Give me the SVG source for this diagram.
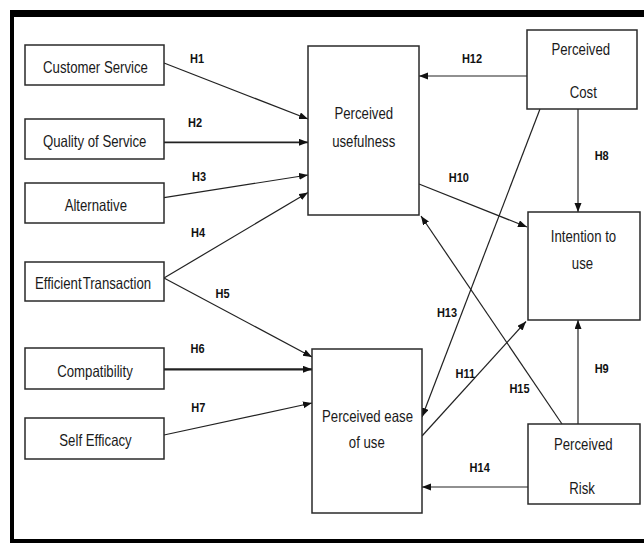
<svg xmlns="http://www.w3.org/2000/svg" width="644" height="543" viewBox="0 0 644 543">
<defs>
<marker id="ah" markerUnits="userSpaceOnUse" markerWidth="10" markerHeight="8" refX="9" refY="3.5" orient="auto">
<path d="M0,0 L9,3.5 L0,7 z" fill="#111"/>
</marker>
<style>
.box{fill:#fff;stroke:#2a2a2a;stroke-width:1.5}
.t{font-family:"Liberation Sans",Arial,sans-serif;font-size:16.5px;fill:#1a1a1a;text-anchor:middle}
.h{font-family:"Liberation Sans",Arial,sans-serif;font-size:12.5px;font-weight:bold;fill:#111;text-anchor:middle}
.c{fill:none;stroke:#222;stroke-width:1.2;marker-end:url(#ah)}
.frame{fill:#000}
</style>
</defs>
<rect x="0" y="0" width="644" height="543" fill="#fff"/>
<g id="frame">
<rect class="frame" x="10" y="10" width="634" height="7"/>
<rect class="frame" x="10" y="10" width="4" height="533"/>
<rect class="frame" x="10" y="539" width="634" height="4"/>
</g>
<g id="connectors">
<line class="c" x1="164" y1="63" x2="308" y2="119"/>
<line class="c" x1="164" y1="142.3" x2="308" y2="142.3" style="stroke-width:1.8"/>
<line class="c" x1="164" y1="197.7" x2="308" y2="175"/>
<line class="c" x1="164" y1="278" x2="308" y2="192.5"/>
<line class="c" x1="164" y1="278" x2="312" y2="357"/>
<line class="c" x1="164" y1="369.3" x2="312" y2="369.3" style="stroke-width:2.2"/>
<line class="c" x1="164" y1="435" x2="312" y2="403"/>
<line class="c" x1="527" y1="76" x2="419" y2="76"/>
<line class="c" x1="578" y1="109" x2="578" y2="212"/>
<line class="c" x1="419" y1="184" x2="527" y2="227"/>
<line class="c" x1="540" y1="109" x2="422" y2="417"/>
<line class="c" x1="562" y1="424" x2="421" y2="216"/>
<line class="c" x1="422" y1="436" x2="526" y2="321.5"/>
<line class="c" x1="578" y1="424" x2="578" y2="320"/>
<line class="c" x1="528" y1="487" x2="422" y2="487"/>
</g>
<g id="labels">
<text class="h" transform="translate(197,62.7) scale(0.88,1)">H1</text>
<text class="h" transform="translate(195,126.5) scale(0.88,1)">H2</text>
<text class="h" transform="translate(199,180.7) scale(0.88,1)">H3</text>
<text class="h" transform="translate(198,237.3) scale(0.88,1)">H4</text>
<text class="h" transform="translate(222.5,298.3) scale(0.88,1)">H5</text>
<text class="h" transform="translate(197.5,352.7) scale(0.88,1)">H6</text>
<text class="h" transform="translate(198.3,411.7) scale(0.88,1)">H7</text>
<text class="h" transform="translate(601.7,160) scale(0.88,1)">H8</text>
<text class="h" transform="translate(601.7,373.3) scale(0.88,1)">H9</text>
<text class="h" transform="translate(458.8,182.3) scale(0.88,1)">H10</text>
<text class="h" transform="translate(465.3,378) scale(0.88,1)">H11</text>
<text class="h" transform="translate(472,62.7) scale(0.88,1)">H12</text>
<text class="h" transform="translate(447,316.7) scale(0.88,1)">H13</text>
<text class="h" transform="translate(479.7,471.7) scale(0.88,1)">H14</text>
<text class="h" transform="translate(519.5,392.7) scale(0.88,1)">H15</text>
</g>
<g id="customer-service">
<rect class="box" x="25" y="45" width="139" height="40"/>
<text class="t" transform="translate(95.5,72.7) scale(0.8,1)">Customer Service</text>
</g>
<g id="quality-of-service">
<rect class="box" x="25" y="119" width="139" height="40"/>
<text class="t" transform="translate(94.7,146.7) scale(0.8,1)">Quality of Service</text>
</g>
<g id="alternative">
<rect class="box" x="25" y="183" width="139" height="40"/>
<text class="t" transform="translate(95.8,210.7) scale(0.8,1)">Alternative</text>
</g>
<g id="efficient-transaction">
<rect class="box" x="25" y="262" width="139" height="39"/>
<text class="t" transform="translate(93,289) scale(0.8,1)" style="word-spacing:-3px">Efficient Transaction</text>
</g>
<g id="compatibility">
<rect class="box" x="25" y="348" width="139" height="41"/>
<text class="t" transform="translate(95,376.5) scale(0.8,1)">Compatibility</text>
</g>
<g id="self-efficacy">
<rect class="box" x="25" y="418" width="139" height="41"/>
<text class="t" transform="translate(95.5,446) scale(0.8,1)">Self Efficacy</text>
</g>
<g id="perceived-usefulness">
<rect class="box" x="308" y="46" width="111" height="169"/>
<text class="t" transform="translate(363.8,119.3) scale(0.8,1)">Perceived</text>
<text class="t" transform="translate(363.7,146.7) scale(0.8,1)">usefulness</text>
</g>
<g id="perceived-ease-of-use">
<rect class="box" x="312" y="349" width="110" height="164"/>
<text class="t" transform="translate(367.5,421.7) scale(0.8,1)">Perceived ease</text>
<text class="t" transform="translate(366.8,448.3) scale(0.8,1)">of use</text>
</g>
<g id="perceived-cost">
<rect class="box" x="527" y="30" width="110" height="79"/>
<text class="t" transform="translate(580.8,55) scale(0.8,1)">Perceived</text>
<text class="t" transform="translate(583.3,98.3) scale(0.8,1)">Cost</text>
</g>
<g id="intention-to-use">
<rect class="box" x="528" y="212" width="112" height="108"/>
<text class="t" transform="translate(583.5,241.7) scale(0.8,1)">Intention to</text>
<text class="t" transform="translate(582.5,269.3) scale(0.8,1)">use</text>
</g>
<g id="perceived-risk">
<rect class="box" x="528" y="424" width="112" height="80"/>
<text class="t" transform="translate(583.3,450) scale(0.8,1)">Perceived</text>
<text class="t" transform="translate(582,494) scale(0.8,1)">Risk</text>
</g>
</svg>
